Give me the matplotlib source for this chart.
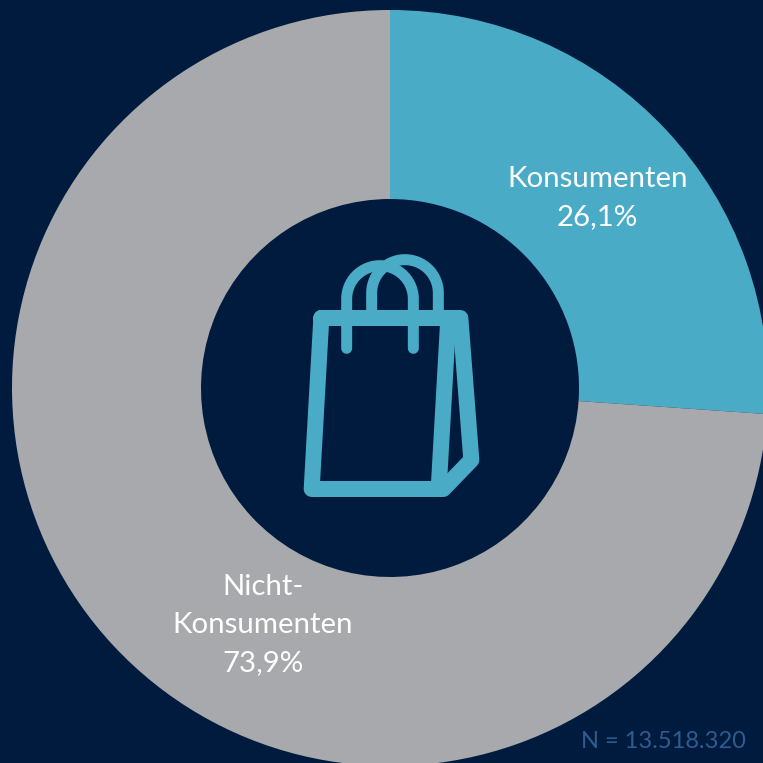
import matplotlib
matplotlib.use("Agg")
import matplotlib.pyplot as plt
import numpy as np

categories = ["Konsumenten", "Nicht-\nKonsumenten"]
values = [26.1, 73.9]
value_labels = ["26,1%", "73,9%"]
note = "N = 13.518.320"

BG = "#001B3D"
TEAL = "#4AABC6"
GREY = "#A8A9AD"
NOTE = "#2F5B90"
S = 763

plt.rcParams["font.family"] = ["Lato", "DejaVu Sans"]
fig = plt.figure(figsize=(7.63, 7.63), dpi=100, facecolor=BG)
ax = fig.add_axes([0, 0, 1, 1])
ax.set_facecolor(BG)

ax.pie(values, colors=[TEAL, GREY], startangle=90, counterclock=False,
       center=(390, S - 388), radius=378, frame=True,
       wedgeprops=dict(width=189, linewidth=0))
ax.set_xlim(0, S)
ax.set_ylim(0, S)
ax.set_aspect("equal")
ax.axis("off")

FS = 21.2
LS = 1.58
ax.text(597.5, S - 198, f"{categories[0]}\n{value_labels[0]}", color="white", fontsize=FS,
        ha="center", va="center", linespacing=LS)
ax.text(263, S - 625, f"{categories[1]}\n{value_labels[1]}", color="white", fontsize=FS,
        ha="center", va="center", linespacing=LS)
ax.text(663, S - 741, note, color=NOTE, fontsize=17, ha="center", va="center")


def zoomed(pts):
    a = np.asarray(pts, float)
    return 280 + a[:, 0] / 3, S - (240 + a[:, 1] / 3)


def stroke(pts, width, cap="round", join="round"):
    x, y = zoomed(pts)
    ax.plot(x, y, color=TEAL, lw=width * 0.72, solid_capstyle=cap, solid_joinstyle=join,
            clip_on=False)


def handle(cx, cy, r, bottom):
    t = np.linspace(np.pi, 0, 60)
    pts = [(cx - r, bottom)] + list(zip(cx + r * np.cos(t), cy - r * np.sin(t))) + [(cx + r, bottom)]
    return pts


# shopping-bag icon
stroke([(124, 234), (95, 747), (490, 747), (574, 660), (541, 234), (124, 234)], 16)
stroke([(505, 234), (476, 747)], 16, cap="butt")
stroke(handle(300, 177, 100, 325), 11)
stroke(handle(375, 159, 100, 234), 11, cap="butt")

fig.savefig("out.png", dpi=100, facecolor=BG)
